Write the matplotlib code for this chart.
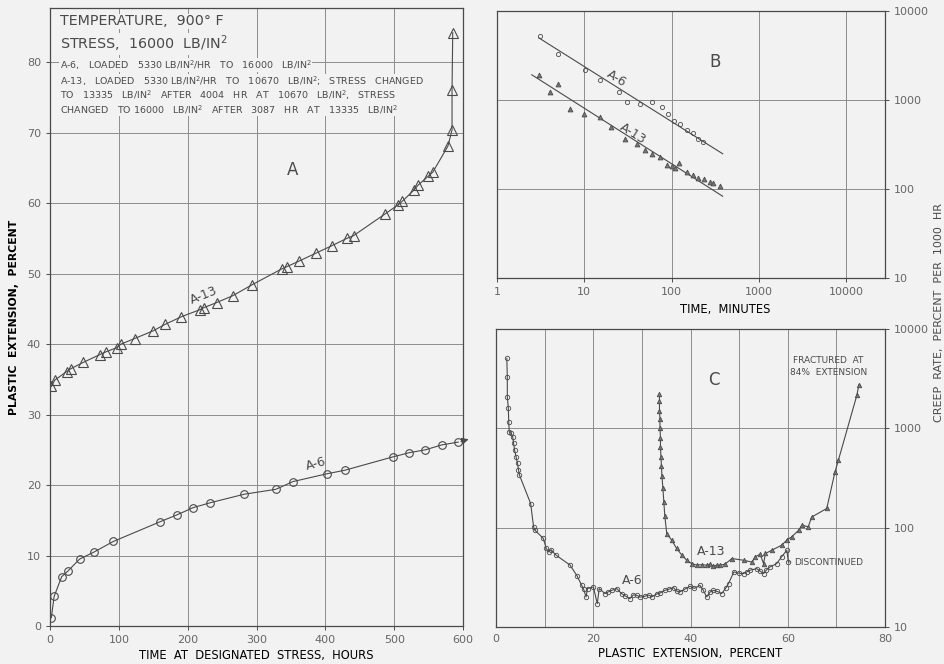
import matplotlib.pyplot as plt

# ---- panel A : plastic extension vs time at designated stress ----
a13_hours = [2, 7, 24, 30, 48, 72, 81, 97, 103, 123, 150, 167, 191, 218, 224, 242,
             266, 293, 337, 344, 362, 386, 410, 431, 441, 487, 506, 512, 529, 535,
             549, 556, 578, 584, 584, 585]
a13_ext = [34.0, 34.9, 36.1, 36.5, 37.4, 38.5, 38.9, 39.5, 40.0, 40.8, 41.9, 42.8,
           43.9, 44.9, 45.2, 45.9, 46.9, 48.4, 50.7, 51.0, 51.8, 52.9, 54.0, 55.0,
           55.4, 58.5, 59.8, 60.3, 61.9, 62.6, 63.8, 64.4, 68.1, 70.4, 76.0, 84.2]

a6_hours = [2, 6, 17, 26, 43, 64, 92, 160, 185, 208, 233, 282, 328, 353, 402, 428,
            498, 522, 545, 569, 593]
a6_ext = [1.2, 4.2, 7.0, 7.8, 9.5, 10.5, 12.0, 14.8, 15.8, 16.8, 17.5, 18.7, 19.4,
          20.5, 21.6, 22.1, 24.0, 24.6, 25.0, 25.7, 26.1]

# ---- panel B : creep rate vs time (minutes) ----
b_a6_min = [3.1, 5.0, 10.1, 15.3, 25, 30.5, 43, 59, 77, 92, 106, 125, 149, 177, 202, 231]
b_a6_rate = [5260, 3320, 2190, 1700, 1220, 957, 902, 942, 826, 695, 584, 535, 461,
             430, 361, 337]
b_a13_min = [3.0, 5.0, 4.0, 6.9, 9.9, 15, 20, 29, 40, 50, 60, 73, 88, 100, 109, 121,
             149, 177, 202, 235, 275, 301, 358]
b_a13_rate = [1920, 1516, 1222, 791, 695, 637, 504, 361, 318, 274, 245, 230, 185, 181,
              173, 194, 155, 142, 133, 128, 119, 117, 109]
fit_min = [3.0, 385]
fit_a6 = [5000, 249]
fit_a13_min = [2.5, 385]
fit_a13 = [1920, 83]

# ---- panel C : creep rate vs plastic extension ----
c_a6_ext = [2.2, 2.3, 2.3, 2.5, 2.6, 2.7, 3.1, 3.4, 3.6, 3.8, 4.1, 4.4, 4.6, 4.8, 7.1,
            7.7, 8.0, 9.7, 10.3, 10.8, 11.3, 12.3, 15.2, 16.6, 17.6, 18.0, 18.5, 18.8,
            20.0, 20.8, 21.2, 22.4, 23.0, 23.8, 24.8, 25.8, 26.6, 27.5, 28.2, 28.9,
            29.6, 30.6, 31.4, 32.0, 33.0, 33.7, 34.7, 35.5, 36.5, 37.1, 37.8, 38.8,
            39.9, 40.8, 41.9, 42.6, 43.3, 44.0, 44.7, 45.5, 46.4, 47.2, 47.8, 48.9,
            50.0, 50.9, 51.6, 52.2, 53.6, 54.3, 55.0, 55.6, 56.3, 57.7, 58.7, 59.8,
            60.1]
c_a6_rate = [5060, 3260, 2080, 1620, 1160, 923, 889, 822, 705, 604, 517, 443, 380,
             338, 175, 102, 94, 78, 62, 57, 60, 53, 42, 33, 26.3, 24, 20.1, 24.4,
             25.3, 17.2, 24.4, 21.7, 22.5, 23.4, 24.4, 21.7, 20.5, 19.3, 21.0, 20.9,
             20.0, 20.4, 21.0, 20.1, 21.5, 22.0, 23.4, 24.0, 24.9, 23.0, 22.6, 24.0,
             25.7, 24.5, 26.3, 23.5, 20.1, 22.5, 23.4, 22.8, 21.7, 24.5, 27.4, 35.9,
             34.8, 34.5, 36.0, 37.3, 38.7, 36.5, 34.5, 37.5, 40.2, 43.5, 50.8, 59.3,
             45.2]
c_a13_ext = [33.6, 33.6, 33.6, 33.7, 33.7, 33.8, 33.8, 33.9, 34.0, 34.1, 34.3, 34.5,
             34.7, 35.1, 36.1, 37.1, 38.2, 39.2, 40.2, 41.3, 42.3, 43.3, 44.0, 44.7,
             45.4, 46.1, 47.1, 48.5, 50.9, 52.6, 53.3, 54.3, 55.0, 55.4, 56.7, 58.7,
             59.8, 60.8, 62.2, 62.9, 64.2, 64.9, 68.0, 69.7, 70.4, 74.2, 74.6]
c_a13_rate = [2210, 1900, 1500, 1250, 1000, 800, 650, 520, 420, 330, 250, 180, 130,
              87, 75, 62, 53, 47, 43.5, 41.9, 42.5, 41.9, 42.8, 41.0, 42.0, 41.9, 43,
              48.9, 47, 45, 51, 54, 43.5, 55, 59.3, 66.5, 75, 81, 94, 106, 102, 128,
              156, 365, 479, 2160, 2730]

ink = '#4a4a4a'
grid = '#8c8c8c'
bg = '#f2f2f2'
plt.rcParams['font.family'] = 'DejaVu Sans'
plt.rcParams['text.color'] = ink
plt.rcParams['axes.edgecolor'] = ink
plt.rcParams['xtick.color'] = ink
plt.rcParams['ytick.color'] = ink

fig = plt.figure(figsize=(9.45, 6.64), dpi=100, facecolor=bg)

# ---------------- A ----------------
axA = fig.add_axes([0.0529, 0.0572, 0.4371, 0.9307], facecolor=bg)
axA.plot(a13_hours, a13_ext, color=ink, lw=0.8, marker='^', ms=7, mfc='none',
         mew=0.8)
axA.plot(a6_hours, a6_ext, color=ink, lw=0.8, marker='o', ms=5.5, mfc='none', mew=0.8)
axA.annotate('', xy=(612, 26.6), xytext=(a6_hours[-1], a6_ext[-1]),
             arrowprops=dict(arrowstyle='-|>', color=ink, lw=0.8), annotation_clip=False)
axA.set_xlim(0, 600)
axA.set_ylim(0, 87.7)
axA.set_xticks(range(0, 601, 100))
axA.set_yticks(range(0, 81, 10))
axA.grid(color=grid, lw=0.7)
axA.tick_params(labelsize=8, length=3, width=0.7, colors=ink, labelcolor='#666666')
axA.set_xlabel('TIME  AT  DESIGNATED  STRESS,  HOURS', fontsize=8.3, labelpad=3)
axA.set_ylabel('PLASTIC  EXTENSION,  PERCENT', fontsize=7.8, fontweight='bold',
               labelpad=6)
for s in axA.spines.values():
    s.set_linewidth(0.9)

axA.text(14, 85.8, 'TEMPERATURE,  900° F', fontsize=10.3, va='center',
         bbox=dict(fc=bg, ec='none', pad=0.5))
axA.text(14, 82.6, 'STRESS,  16000  LB/IN$^2$', fontsize=10.3, va='center',
         bbox=dict(fc=bg, ec='none', pad=0.5))
small = ['A-6,   LOADED   5330 LB/IN$^2$/HR   TO   16000   LB/IN$^2$',
         'A-13,   LOADED   5330 LB/IN$^2$/HR   TO   10670   LB/IN$^2$;   STRESS   CHANGED',
         'TO   13335   LB/IN$^2$   AFTER   4004   HR   AT   10670   LB/IN$^2$,   STRESS',
         'CHANGED   TO 16000   LB/IN$^2$   AFTER   3087   HR   AT   13335   LB/IN$^2$']
for yv, line in zip([79.6, 77.3, 75.3, 73.3], small):
    axA.text(14, yv, line, fontsize=6.8, va='center',
             bbox=dict(fc=bg, ec='none', pad=0.3))
axA.text(353, 64.7, 'A', fontsize=12, ha='center', va='center')
axA.text(223, 46.9, 'A-13', fontsize=9, ha='center', va='center', rotation=22)
axA.text(387, 23.0, 'A-6', fontsize=9, ha='center', va='center', rotation=15)

# ---------------- B ----------------
axB = fig.add_axes([0.526, 0.5813, 0.4106, 0.4021], facecolor=bg)
axB.plot(fit_min, fit_a6, color=ink, lw=0.8)
axB.plot(fit_a13_min, fit_a13, color=ink, lw=0.8)
axB.plot(b_a6_min, b_a6_rate, ls='none', marker='o', ms=3, mfc='none', mec=ink,
         mew=0.6)
axB.plot(b_a13_min, b_a13_rate, ls='none', marker='^', ms=3.5, mfc='#777777',
         mec=ink, mew=0.6)
axB.set_xscale('log')
axB.set_yscale('log')
axB.set_xlim(1, 28000)
axB.set_ylim(10, 10000)
axB.set_xticks([1, 10, 100, 1000, 10000], ['1', '10', '100', '1000', '10000'])
axB.set_yticks([10, 100, 1000, 10000], ['10', '100', '1000', '10000'])
axB.minorticks_off()
axB.yaxis.tick_right()
axB.grid(color=grid, lw=0.7)
axB.tick_params(labelsize=8, length=3, width=0.7, colors=ink, labelcolor='#666666')
axB.set_xlabel('TIME,  MINUTES', fontsize=8.3)
axB.xaxis.set_label_coords(0.588, -0.095)
axB.text(314, 2670, 'B', fontsize=12, ha='center', va='center')
axB.text(23.4, 1750, 'A-6', fontsize=9, ha='center', va='center', rotation=-32)
axB.text(36, 420, 'A-13', fontsize=9, ha='center', va='center', rotation=-32)
for s in axB.spines.values():
    s.set_linewidth(0.9)

# ---------------- C ----------------
axC = fig.add_axes([0.525, 0.0557, 0.4116, 0.4488], facecolor=bg)
axC.plot(c_a6_ext, c_a6_rate, color=ink, lw=0.8, marker='o', ms=3.2, mfc='none',
         mew=0.6)
axC.plot(c_a13_ext, c_a13_rate, color=ink, lw=0.8, marker='^', ms=3.2,
         mfc='#777777', mew=0.6)
axC.set_yscale('log')
axC.set_xlim(0, 80)
axC.set_ylim(10, 10000)
axC.set_xticks(range(0, 81, 10), ['0', '', '20', '', '40', '', '60', '', '80'])
axC.set_yticks([10, 100, 1000, 10000], ['10', '100', '1000', '10000'])
axC.minorticks_off()
axC.yaxis.tick_right()
axC.grid(color=grid, lw=0.7)
axC.tick_params(labelsize=8, length=3, width=0.7, colors=ink, labelcolor='#666666')
axC.tick_params(axis='x', length=0, pad=5)
axC.set_xlabel('PLASTIC  EXTENSION,  PERCENT', fontsize=8.3, labelpad=2)
axC.text(44.7, 3060, 'C', fontsize=12, ha='center', va='center')
axC.text(44.3, 58, 'A-13', fontsize=9, ha='center', va='center')
axC.text(27.9, 29.5, 'A-6', fontsize=9, ha='center', va='center')
axC.text(68.3, 4200, 'FRACTURED  AT\n84%  EXTENSION', fontsize=6.5, ha='center',
         va='center', linespacing=1.4)
axC.annotate('DISCONTINUED', xy=(c_a6_ext[-1], c_a6_rate[-1]), xytext=(61.2, 45),
             fontsize=6.5, va='center',
             arrowprops=dict(arrowstyle='-', color=ink, lw=0.6))
for s in axC.spines.values():
    s.set_linewidth(0.9)

fig.text(0.999, 0.53, 'CREEP  RATE,  PERCENT  PER  1000  HR', rotation=90,
         fontsize=8, ha='right', va='center')

fig.savefig('out.png', dpi=100, facecolor=bg)
